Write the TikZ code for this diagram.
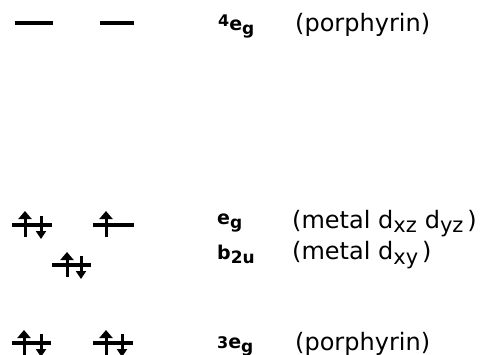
\documentclass[tikz,border=0pt]{standalone}
\usepackage{fontspec}
\setmainfont{DejaVu Sans}
\usetikzlibrary{arrows.meta}
\tikzset{
  lvl/.style={line width=3.3pt},
  spinup/.style={line width=3pt, -{Triangle[width=13pt,length=8pt]}},
  spindown/.style={line width=3pt, -{Triangle[width=10pt,length=8pt]}},
  symlab/.style={anchor=base west, inner sep=0pt, font=\fontsize{19}{19}\selectfont\bfseries},
  desclab/.style={anchor=base west, inner sep=0pt, font=\fontsize{24}{24}\selectfont},
}
\newcommand{\lowsub}[1]{\raisebox{-5pt}{\fontsize{21}{21}\selectfont #1}}
\newcommand{\symsub}[1]{\raisebox{-4pt}{\fontsize{17}{17}\selectfont\bfseries #1}}
\newcommand{\symdig}[1]{{\fontsize{16}{16}\selectfont\bfseries #1}}
\begin{document}
\begin{tikzpicture}[x=1pt,y=-1pt]
\useasboundingbox (0,0) rectangle (481,355);
% 4e_g porphyrin (empty)
\draw[lvl] (15,23) -- (53,23);
\draw[lvl] (100,23) -- (134,23);
\node[symlab] (l4eg) at (218,31) {\raisebox{4pt}{\symdig{4}}e\symsub{g}};
\node[desclab] (d4eg) at (295,32) {(porphyrin)};
% e_g metal
\draw[lvl] (12,225) -- (52,225);
\draw[spinup] (25,237) -- (25,211);
\draw[spindown] (41,216) -- (41,239);
\draw[lvl] (93,225) -- (134,225);
\draw[spinup] (106,237) -- (106,211);
\node[symlab] (leg) at (217,225) {e\symsub{g}};
\node[desclab] (deg) at (292,228) {(metal d\lowsub{xz}\,\,d\lowsub{yz}\,)};
% b2u metal
\draw[lvl] (52,265) -- (91,265);
\draw[spinup] (67,277) -- (67,252);
\draw[spindown] (81,256) -- (81,279);
\node[symlab] (lb2u) at (217,259) {b\symsub{2u}};
\node[desclab] (db2u) at (292,259) {(metal d\lowsub{xy}\,)};
% 3e_g porphyrin
\draw[lvl] (12,343) -- (51,343);
\draw[spinup] (24,356) -- (24,330);
\draw[spindown] (41,334) -- (41,357);
\draw[lvl] (93,343) -- (133,343);
\draw[spinup] (106,356) -- (106,330);
\draw[spindown] (122,334) -- (122,357);
\node[symlab] (l3eg) at (217,348) {\symdig{3}e\symsub{g}};
\node[desclab] (d3eg) at (295,350) {(porphyrin)};
\end{tikzpicture}
\end{document}
